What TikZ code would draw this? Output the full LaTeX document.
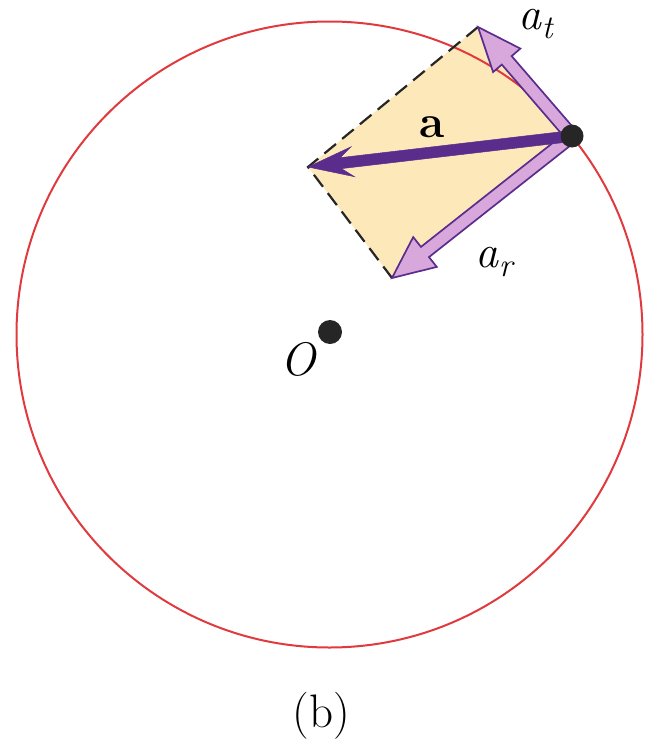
\documentclass[tikz,border=0pt]{standalone}
\usetikzlibrary{calc}
\definecolor{circred}{HTML}{E03A3E}
\definecolor{boxyellow}{HTML}{FDE8BA}
\definecolor{darkpurple}{HTML}{5A2D8C}
\definecolor{lightpurple}{HTML}{D8A7DC}
\tikzset{
  circ/.style={draw=circred, line width=2pt},
  dashedge/.style={draw=black!85, line width=2.2pt, dash pattern=on 15pt off 8pt},
  hollowarrow/.style={fill=lightpurple, draw=darkpurple, line width=1.7pt, line join=miter},
  solidarrow/.style={fill=darkpurple, draw=darkpurple, line width=0.5pt, line join=miter},
  blackdot/.style={circle, fill=black!85, inner sep=0pt, minimum size=#1},
  lbl/.style={inner sep=0pt, font=\fontsize{46}{54}\selectfont},
}
\newcommand\subtxt[1]{\raisebox{-0.2em}{\fontsize{33}{36}\selectfont\textit{#1}}}
% style, from, to, shaft half width, head length, head half width
\newcommand\fatarrow[6]{%
  \coordinate (#2-#3-n) at ($(#3)!#5!(#2)$);
  \path[#1] ($(#2)!#4!90:(#3)$) -- ($(#2-#3-n)!#4!90:(#3)$) -- ($(#2-#3-n)!#6!90:(#3)$)
    -- (#3) -- ($(#2-#3-n)!#6!-90:(#3)$) -- ($(#2-#3-n)!#4!-90:(#3)$) -- ($(#2)!#4!-90:(#3)$) -- cycle;}
\begin{document}
\begin{tikzpicture}[x=1pt, y=-1pt]
  \useasboundingbox (0,0) rectangle (650,747);
  % key points
  \coordinate (P) at (572,136);
  \coordinate (T) at (478,27);
  \coordinate (R) at (392,278);
  \coordinate (A) at (308,167);
  \coordinate (C) at (329.5,334.5);
  % yellow parallelogram
  \fill[boxyellow] (P) -- (T) -- (A) -- (R) -- cycle;
  % circle
  \draw[circ] (C) circle[radius=313];
  % dashed edges
  \draw[dashedge] (T) -- (A) -- (R);
  % component arrows
  \fatarrow{hollowarrow}{P}{T}{6.5pt}{44pt}{18pt}
  \fatarrow{hollowarrow}{P}{R}{6.5pt}{42pt}{19pt}
  % resultant arrow a
  \coordinate (an) at ($(A)!33pt!(P)$);
  \coordinate (ab) at ($(A)!45pt!(P)$);
  \path[solidarrow] ($(P)!5.5pt!90:(A)$) -- ($(an)!5.5pt!90:(A)$) -- ($(ab)!15pt!90:(A)$)
    -- (A) -- ($(ab)!15pt!-90:(A)$) -- ($(an)!5.5pt!-90:(A)$) -- ($(P)!5.5pt!-90:(A)$) -- cycle;
  % dots
  \node[blackdot=23pt] (pdot) at (P) {};
  \node[blackdot=24pt] (odot) at (330,332) {};
  % labels
  \node[lbl, anchor=base west] (lat) at (518,29) {\textit{a}\subtxt{t}};
  \node[lbl, anchor=base west] (lar) at (475,267) {\textit{a}\subtxt{r}};
  \node[lbl, anchor=base west] (la) at (419,137) {\textbf{a}};
  \node[lbl, anchor=base west, font=\fontsize{47}{54}\selectfont] (lo) at (280,375) {\textit{O}};
  \node[lbl, anchor=base, font=\fontsize{47}{56}\selectfont] (lb) at (321.5,727) {(b)};
\end{tikzpicture}
\end{document}
